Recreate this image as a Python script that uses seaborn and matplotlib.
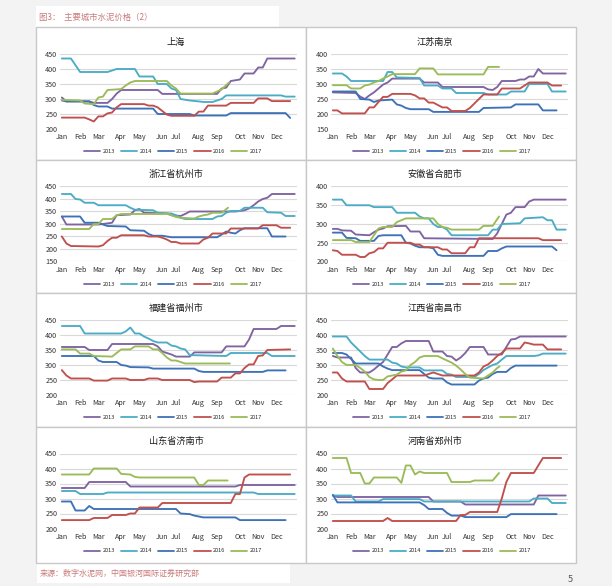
import matplotlib
matplotlib.use('Agg')
import matplotlib.pyplot as plt
from matplotlib.patches import Rectangle
from matplotlib.lines import Line2D
import pandas as pd
import seaborn as sns

years = ['2013', '2014', '2015', '2016', '2017']
months = ['Jan', 'Feb', 'Mar', 'Apr', 'May', 'Jun', 'Jul', 'Aug', 'Sep', 'Oct', 'Nov', 'Dec']
month_weeks = [0, 4, 8, 13, 17, 22, 25, 30, 34, 39, 43, 47]

# weekly prices, (week, yuan/t); only the weeks where the line bends
# 上海
sh_2013 = [(0,305),(1,292),(6,292),(7,287),(10,287),(11,300),(12,318),(13,330),(21,330),(22,317),(34,317),(35,335),(36,338),(37,360),(39,365),(40,385),(42,385),(43,405),(44,405),(45,435),(51,435)]
sh_2014 = [(0,435),(2,435),(4,390),(10,390),(12,400),(16,400),(17,375),(20,375),(21,350),(23,350),(24,335),(25,330),(26,300),(28,295),(30,292),(31,290),(33,290),(35,300),(36,312),(48,312),(49,308),(51,308)]
sh_2015 = [(0,295),(1,292),(6,292),(7,280),(8,275),(10,275),(11,268),(20,268),(21,250),(28,250),(29,245),(36,245),(37,253),(49,253),(50,237)]
sh_2016 = [(0,238),(5,238),(6,232),(7,225),(8,242),(9,242),(10,252),(11,255),(12,272),(13,283),(18,283),(19,278),(20,278),(21,272),(22,260),(23,248),(24,244),(29,244),(30,258),(31,258),(32,278),(36,278),(37,287),(42,287),(43,302),(45,302),(46,293),(50,293)]
sh_2017 = [(0,297),(4,295),(5,285),(7,283),(8,305),(9,308),(10,330),(13,333),(14,345),(15,355),(16,360),(23,360),(24,345),(25,335),(26,318),(33,318),(34,325),(35,332),(36.6,355)]

# 江苏南京
nj_2013 = [(0,272),(5,270),(6,258),(7,250),(8,262),(9,272),(10,285),(11,298),(12,305),(13,318),(19,318),(20,305),(23,305),(24,290),(33,290),(34,282),(35,280),(36,290),(37,310),(40,310),(41,315),(42,315),(43,325),(44,325),(45,350),(46,335),(51,335)]
nj_2014 = [(0,335),(2,335),(3,325),(4,310),(11,310),(12,340),(13,340),(14,322),(19,320),(20,295),(23,295),(24,285),(26,285),(27,270),(33,270),(34,265),(38,265),(39,275),(42,275),(43,300),(47,300),(48,275),(51,275)]
nj_2015 = [(0,275),(5,275),(6,250),(8,248),(9,240),(10,245),(13,248),(14,232),(15,228),(16,220),(17,216),(21,216),(22,207),(32,207),(33,220),(39,222),(40,232),(45,232),(46,212),(49,212)]
nj_2016 = [(0,212),(1,212),(2,202),(7,202),(8,222),(9,222),(10,240),(11,257),(12,257),(13,267),(17,267),(18,262),(19,252),(20,252),(21,238),(22,238),(23,230),(24,222),(25,222),(26,210),(29,210),(30,220),(31,235),(32,250),(33,265),(36,265),(37,285),(41,285),(42,295),(43,305),(47,305),(48,295),(50,295)]
nj_2017 = [(0,296),(3,296),(4,285),(6,285),(7,295),(8,298),(9,305),(10,310),(11,318),(12,325),(13,333),(18,333),(19,352),(22,352),(23,332),(33,332),(34,357),(36.4,357)]

# 浙江省杭州市
hz_2013 = [(0,330),(1,298),(8,298),(9,300),(11,305),(12,335),(15,338),(16,355),(17,360),(18,345),(23,342),(24,335),(26,332),(27,340),(28,350),(38,350),(39,352),(40,355),(41,362),(42,375),(43,390),(44,400),(45,405),(46,420),(51,420)]
hz_2014 = [(0,420),(2,420),(3,400),(4,398),(5,385),(7,385),(8,375),(14,375),(15,365),(16,357),(20,355),(21,345),(24,342),(25,335),(26,325),(27,320),(33,320),(34,330),(35,332),(36,345),(37,352),(39,352),(40,365),(44,365),(45,347),(48,345),(49,332),(51,332)]
hz_2015 = [(0,330),(4,330),(5,305),(8,305),(9,298),(10,292),(14,290),(15,275),(18,273),(19,260),(20,253),(22,253),(23,250),(24,247),(34,247),(35,258),(36,270),(37,265),(38,262),(39,275),(40,283),(45,283),(46,250),(49,250)]
hz_2016 = [(0,250),(1,222),(2,212),(8,210),(9,215),(10,232),(11,245),(12,245),(13,255),(18,255),(19,250),(21,250),(22,245),(23,238),(24,228),(25,228),(26,222),(30,222),(31,238),(32,245),(33,262),(36,262),(37,282),(43,282),(44,295),(47,295),(48,285),(50,285)]
hz_2017 = [(0,280),(6,280),(7,300),(8,300),(9,320),(11,320),(12,335),(13,340),(22,340),(23,342),(24,335),(25,328),(26,325),(29,322),(30,330),(31,335),(32,338),(33,345),(35,345),(36.4,365)]

# 安徽省合肥市
hf_2013 = [(0,287),(1,287),(2,283),(4,282),(5,272),(8,270),(9,278),(10,285),(11,288),(12,294),(16,295),(17,280),(19,280),(20,262),(35,260),(36,275),(37,300),(38,325),(39,330),(40,345),(42,345),(43,360),(44,365),(51,365)]
hf_2014 = [(0,365),(2,365),(3,350),(8,350),(9,345),(13,345),(14,330),(18,330),(19,320),(20,315),(21,315),(22,300),(23,292),(24,292),(25,285),(26,270),(34,270),(35,285),(36,285),(37,300),(41,302),(42,315),(46,318),(47,310),(48,310),(49,285),(51,285)]
hf_2015 = [(0,277),(2,277),(3,263),(5,262),(6,255),(9,255),(10,268),(11,270),(15,270),(16,250),(17,248),(18,242),(19,238),(21,238),(22,235),(23,218),(24,215),(33,215),(34,228),(36,228),(37,235),(38,240),(48,240),(49,230)]
hf_2016 = [(0,230),(1,228),(2,218),(5,218),(6,212),(7,212),(8,222),(9,225),(10,235),(11,235),(12,250),(17,250),(18,245),(19,245),(20,238),(23,238),(24,232),(25,232),(26,222),(29,222),(30,238),(31,238),(32,262),(45,262),(46,257),(50,257)]
hf_2017 = [(0,257),(4,257),(5,252),(8,252),(9,270),(10,288),(11,292),(13,292),(14,305),(15,310),(16,315),(22,315),(23,300),(24,292),(25,290),(26,285),(32,285),(33,295),(35,295),(36.4,320)]

# 福建省福州市
fz_2013 = [(0,360),(5,360),(6,350),(10,350),(11,370),(20,370),(21,362),(22,345),(23,340),(24,335),(25,328),(28,328),(29,342),(35,342),(36,362),(40,362),(41,385),(42,420),(47,420),(48,430),(51,430)]
fz_2014 = [(0,430),(4,430),(5,405),(13,405),(14,412),(15,425),(16,405),(17,405),(18,395),(19,388),(20,380),(21,375),(23,375),(24,365),(25,362),(26,355),(27,352),(28,333),(36,330),(37,340),(45,340),(46,330),(51,330)]
fz_2015 = [(0,330),(7,330),(8,315),(9,310),(12,310),(13,300),(14,298),(15,293),(19,292),(20,288),(29,288),(30,280),(31,277),(44,277),(45,282),(49,282)]
fz_2016 = [(0,283),(1,265),(2,255),(6,255),(7,248),(10,248),(11,255),(14,255),(15,250),(18,250),(19,255),(21,255),(22,250),(28,250),(29,243),(30,245),(34,245),(35,258),(37,258),(38,272),(39,272),(40,290),(41,302),(42,302),(43,330),(44,332),(45,350),(50,352)]
fz_2017 = [(0,352),(3,352),(4,338),(6,338),(7,330),(11,328),(12,340),(13,352),(15,352),(16,362),(19,362),(20,352),(21,352),(22,340),(23,325),(24,315),(25,315),(26,310),(27,305),(36.8,305)]

# 江西省南昌市
nc_2013 = [(0,330),(1,325),(4,325),(5,290),(6,275),(8,275),(9,285),(10,298),(11,310),(12,335),(13,360),(14,360),(15,372),(16,380),(21,380),(22,345),(24,345),(25,330),(26,328),(27,315),(28,325),(29,340),(30,360),(33,360),(34,335),(37,335),(38,360),(39,385),(40,387),(41,395),(51,395)]
nc_2014 = [(0,395),(3,395),(4,375),(5,360),(6,345),(7,330),(8,318),(12,318),(13,308),(14,305),(15,295),(16,292),(19,292),(20,282),(24,282),(25,270),(26,268),(27,260),(31,260),(32,270),(33,283),(34,292),(35,300),(36,305),(37,318),(38,330),(44,330),(45,332),(46,338),(51,338)]
nc_2015 = [(0,340),(2,340),(3,335),(4,320),(5,305),(10,305),(11,295),(12,288),(13,283),(19,283),(20,270),(21,258),(22,255),(24,255),(25,242),(26,235),(31,235),(32,248),(33,255),(34,258),(35,270),(36,277),(38,277),(39,290),(40,298),(49,298)]
nc_2016 = [(0,275),(1,275),(2,255),(3,245),(7,245),(8,220),(11,220),(12,240),(13,252),(14,265),(20,265),(21,270),(22,275),(23,270),(24,265),(31,265),(32,275),(33,295),(34,302),(35,315),(36,330),(37,340),(38,355),(41,355),(42,375),(43,372),(44,368),(46,368),(47,352),(50,352)]
nc_2017 = [(0,355),(1,330),(2,310),(3,300),(5,300),(6,290),(7,278),(8,260),(9,252),(10,250),(11,250),(12,262),(13,265),(14,268),(15,278),(16,282),(17,300),(18,310),(19,325),(20,330),(23,330),(24,322),(25,315),(26,308),(27,298),(28,285),(29,270),(30,258),(33,255),(34,265),(35,275),(36,290),(36.5,295)]

# 山东省济南市
jn_2013 = [(0,335),(5,335),(6,355),(14,355),(15,340),(38,340),(39,345),(51,345)]
jn_2014 = [(0,325),(3,325),(4,315),(9,315),(10,320),(42,320),(43,315),(51,315)]
jn_2015 = [(0,290),(2,290),(3,260),(5,260),(6,275),(7,265),(25,265),(26,250),(28,248),(29,243),(30,240),(31,237),(38,237),(39,228),(49,228)]
jn_2016 = [(0,228),(6,228),(7,235),(10,235),(11,245),(14,245),(15,250),(16,250),(17,270),(21,270),(22,285),(37,285),(38,315),(39,315),(40,370),(41,380),(50,380)]
jn_2017 = [(0,380),(6,380),(7,400),(12,400),(13,382),(15,380),(16,372),(17,370),(29,370),(30,345),(31,345),(32,360),(36.3,360)]

# 河南省郑州市
zz_2013 = [(0,310),(1,305),(21,305),(22,290),(28,290),(29,280),(44,280),(45,310),(51,310)]
zz_2014 = [(0,310),(4,310),(5,290),(10,290),(11,298),(19,298),(20,290),(43,290),(44,300),(47,300),(48,285),(51,285)]
zz_2015 = [(0,312),(1,287),(19,287),(20,278),(21,265),(24,265),(25,252),(26,243),(28,243),(29,238),(38,238),(39,248),(49,248)]
zz_2016 = [(0,225),(11,225),(12,235),(13,225),(27,225),(28,245),(29,245),(30,255),(36,255),(37,300),(38,355),(39,385),(44,385),(45,410),(46,435),(50,435)]
zz_2017 = [(0,435),(3,435),(4,385),(6,385),(7,350),(8,350),(9,370),(14,370),(15,352),(16,410),(17,410),(18,380),(19,390),(20,385),(25,385),(26,355),(30,355),(31,360),(35,360),(36.4,385)]

palette = {'2013': '#8064a2', '2014': '#4bacc6', '2015': '#3d72b8', '2016': '#c0504d', '2017': '#9bbb59'}

# (title, series, y range, column, row)
panels = [
    ('上海', [sh_2013, sh_2014, sh_2015, sh_2016, sh_2017], (200, 450), 0, 0),
    ('江苏南京', [nj_2013, nj_2014, nj_2015, nj_2016, nj_2017], (150, 400), 1, 0),
    ('浙江省杭州市', [hz_2013, hz_2014, hz_2015, hz_2016, hz_2017], (150, 450), 0, 1),
    ('安徽省合肥市', [hf_2013, hf_2014, hf_2015, hf_2016, hf_2017], (200, 400), 1, 1),
    ('福建省福州市', [fz_2013, fz_2014, fz_2015, fz_2016, fz_2017], (200, 450), 0, 2),
    ('江西省南昌市', [nc_2013, nc_2014, nc_2015, nc_2016, nc_2017], (200, 450), 1, 2),
    ('山东省济南市', [jn_2013, jn_2014, jn_2015, jn_2016, jn_2017], (200, 450), 0, 3),
    ('河南省郑州市', [zz_2013, zz_2014, zz_2015, zz_2016, zz_2017], (200, 450), 1, 3),
]

sns.set_style('white')
plt.rcParams['font.family'] = ['Noto Sans CJK SC', 'DejaVu Sans']

W, H = 612, 586
fig = plt.figure(figsize=(W / 100, H / 100), dpi=100, facecolor='#f3f3f3')

def fx(x):
    return x / W

def fy(y):
    return 1 - y / H

def box(x0, y0, x1, y1, fc='white', ec='none', lw=0.8):
    # background boxes go under the axes
    fig.patches.append(Rectangle((fx(x0), fy(y1)), fx(x1) - fx(x0), fy(y0) - fy(y1),
                                 transform=fig.transFigure, fc=fc, ec=ec, lw=lw, zorder=-10))

# page furniture
box(36, 6, 279, 26.5)
fig.text(fx(39), fy(17), '图3：  主要城市水泥价格（2）', fontsize=6, color='#c97b7b', ha='left', va='center')
box(37, 563, 290, 582.5)
fig.text(fx(40), fy(573.5), '来源：数字水泥网，中国银河国际证券研究部', fontsize=5.8, color='#c97b7b', ha='left', va='center')
fig.text(fx(570), fy(579), '5', fontsize=6.5, color='#555555', ha='center', va='center')

col_x = [36, 306, 576]
row_y = [27, 159.5, 293, 426.5, 563]
for c in range(2):
    for r in range(4):
        box(col_x[c], row_y[r], col_x[c + 1], row_y[r + 1], ec='#c8c8c8', lw=1.0)

ax_left = [60, 331]
title_x = [176, 435]
legend_x = [173, 442]

for title, series, (lo, hi), c, r in panels:
    top = row_y[r]
    ax = fig.add_axes([fx(ax_left[c]), fy(top + 102), 237 / W, 75 / H])
    ax.set_facecolor('none')

    rows = []
    for yr, pts in zip(years, series):
        for wk, price in pts:
            rows.append({'week': wk, 'price': price, 'year': yr})
    df = pd.DataFrame(rows)

    sns.lineplot(data=df, x='week', y='price', hue='year', hue_order=years, palette=palette,
                 errorbar=None, legend=False, lw=1.35, ax=ax)

    ax.set_xlim(-0.4, 51.5)
    ax.set_ylim(lo, hi)
    ax.set_yticks(range(lo, hi + 1, 50))
    ax.set_xticks(month_weeks, months)
    ax.set_xlabel('')
    ax.set_ylabel('')
    ax.grid(axis='y', color='#d9d9d9', lw=0.8)
    ax.set_axisbelow(True)
    for s in ax.spines.values():
        s.set_visible(False)
    ax.tick_params(axis='both', length=0, labelsize=5.2, colors='#333333')
    ax.tick_params(axis='y', pad=2)
    ax.tick_params(axis='x', pad=3)

    fig.text(fx(title_x[c]), fy(top + 15), title, fontsize=6.6, ha='center', va='center', color='#1a1a1a')

    handles = [Line2D([], [], color=palette[y], lw=1.3) for y in years]
    fig.legend(handles, years, loc='center', bbox_to_anchor=(fx(legend_x[c]), fy(top + 124.5)),
               ncol=5, frameon=False, fontsize=4, handlelength=2.9, handletextpad=0.4,
               columnspacing=1.1, borderpad=0)

fig.savefig('out.png', dpi=100, facecolor=fig.get_facecolor())
